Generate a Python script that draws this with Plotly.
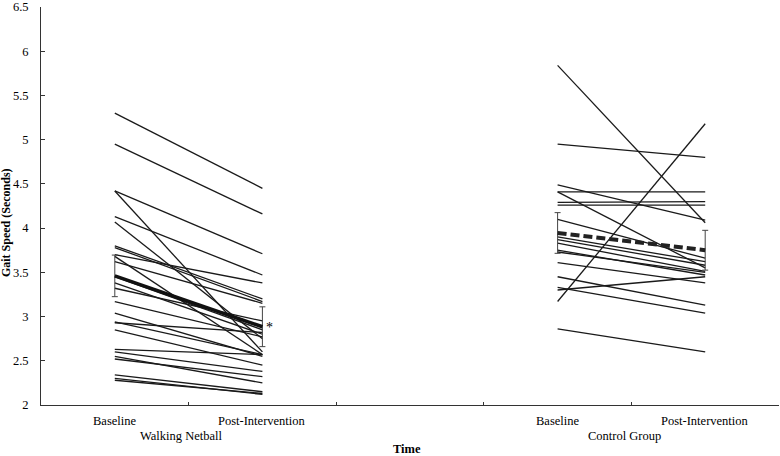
import plotly.graph_objects as go

# ---- data ----
wn_baseline = [5.30, 4.95, 4.42, 4.42, 4.13, 4.07, 3.80, 3.78, 3.70, 3.68, 3.62, 3.45, 3.38,
               3.32, 3.17, 3.04, 2.94, 2.93, 2.85, 2.63, 2.60, 2.55, 2.52, 2.34, 2.30, 2.28]
wn_post = [4.45, 4.16, 3.71, 2.60, 3.47, 2.75, 3.20, 3.17, 3.38, 2.57, 3.15, 2.85, 2.80,
           2.95, 2.77, 2.55, 2.57, 2.82, 2.45, 2.57, 2.38, 2.25, 2.32, 2.15, 2.12, 2.13]
cg_baseline = [5.84, 4.95, 4.49, 4.41, 4.41, 4.29, 4.26, 4.10, 3.17, 3.90, 3.87, 3.83, 3.75,
               3.73, 3.61, 3.45, 3.33, 3.30, 2.86]
cg_post = [4.06, 4.80, 4.09, 4.41, 3.55, 4.30, 4.26, 3.66, 5.18, 3.62, 3.58, 3.51, 3.47,
           3.50, 3.38, 3.13, 3.04, 3.45, 2.60]

wn_mean = [3.46, 2.885]
wn_err = [0.235, 0.225]
cg_mean = [3.945, 3.75]
cg_err = [0.23, 0.225]

time_labels = ["Baseline", "Post-Intervention"]
group_labels = ["Walking Netball", "Control Group"]
wn_x = [0, 1]
cg_x = [3, 4]
boundaries = [0.5, 1.5, 2.5, 3.5, 4.5]

FONT = "'Liberation Serif', 'Times New Roman', Times, serif"
fig = go.Figure()

for b, p in zip(wn_baseline, wn_post):
    fig.add_trace(go.Scatter(x=wn_x, y=[b, p], mode="lines",
                             line=dict(color="#1a1a1a", width=1.3), hoverinfo="skip"))
for b, p in zip(cg_baseline, cg_post):
    fig.add_trace(go.Scatter(x=cg_x, y=[b, p], mode="lines",
                             line=dict(color="#1a1a1a", width=1.3), hoverinfo="skip"))

fig.add_trace(go.Scatter(x=wn_x, y=wn_mean, mode="lines",
                         line=dict(color="#111111", width=3.5),
                         error_y=dict(type="data", array=wn_err, color="#444444",
                                      thickness=1, width=3)))
fig.add_trace(go.Scatter(x=cg_x, y=cg_mean, mode="lines",
                         line=dict(color="#222222", width=4, dash="9px,4px"),
                         error_y=dict(type="data", array=cg_err, color="#444444",
                                      thickness=1, width=3)))

ann = []
for gx, g in zip([wn_x, cg_x], group_labels):
    for xx, t in zip(gx, time_labels):
        ann.append(dict(x=xx, y=0, xref="x", yref="paper", text=t, showarrow=False,
                        yanchor="middle", yshift=-16, font=dict(family=FONT, size=12.5, color="black")))
    ann.append(dict(x=(gx[0] + gx[1]) / 2 - 0.05, y=0, xref="x", yref="paper", text=g, showarrow=False,
                    yanchor="middle", yshift=-31, font=dict(family=FONT, size=12.5, color="black")))
ann.append(dict(x=1.98, y=0, xref="x", yref="paper", text="<b>Time</b>", showarrow=False,
                yanchor="middle", yshift=-44, font=dict(family=FONT, size=12.5, color="black")))
ann.append(dict(x=0, y=0.457, xref="paper", yref="paper", text="<b>Gait Speed (Seconds)</b>",
                showarrow=False, textangle=-90, xanchor="center", xshift=-35,
                font=dict(family=FONT, size=12, color="black")))
ann.append(dict(x=wn_x[1], y=wn_mean[1], xref="x", yref="y", text="*", showarrow=False,
                xanchor="left", xshift=2, yshift=-1, font=dict(family=FONT, size=14, color="black")))

fig.update_layout(
    width=780, height=456,
    margin=dict(l=41, r=1, t=7, b=51, autoexpand=False),
    paper_bgcolor="white", plot_bgcolor="white",
    showlegend=False,
    annotations=ann,
    font=dict(family=FONT, size=12.5, color="black"),
    xaxis=dict(range=[-0.5, 4.5], tickvals=boundaries, showticklabels=False,
               ticks="inside", ticklen=3, tickcolor="#333", showline=True, linecolor="#333",
               linewidth=1, showgrid=False, zeroline=False),
    yaxis=dict(range=[2, 6.5], dtick=0.5, tick0=2, ticks="inside", ticklen=4, tickcolor="#333",
               showline=True, linecolor="#333", linewidth=1, showgrid=False, zeroline=False,
               ticklabelstandoff=9,
               tickfont=dict(family=FONT, size=12.5, color="black")),
)

fig.write_html("out.html", config={"displayModeBar": False},
               post_script="document.body.style.margin='0';document.body.style.padding='0';")
